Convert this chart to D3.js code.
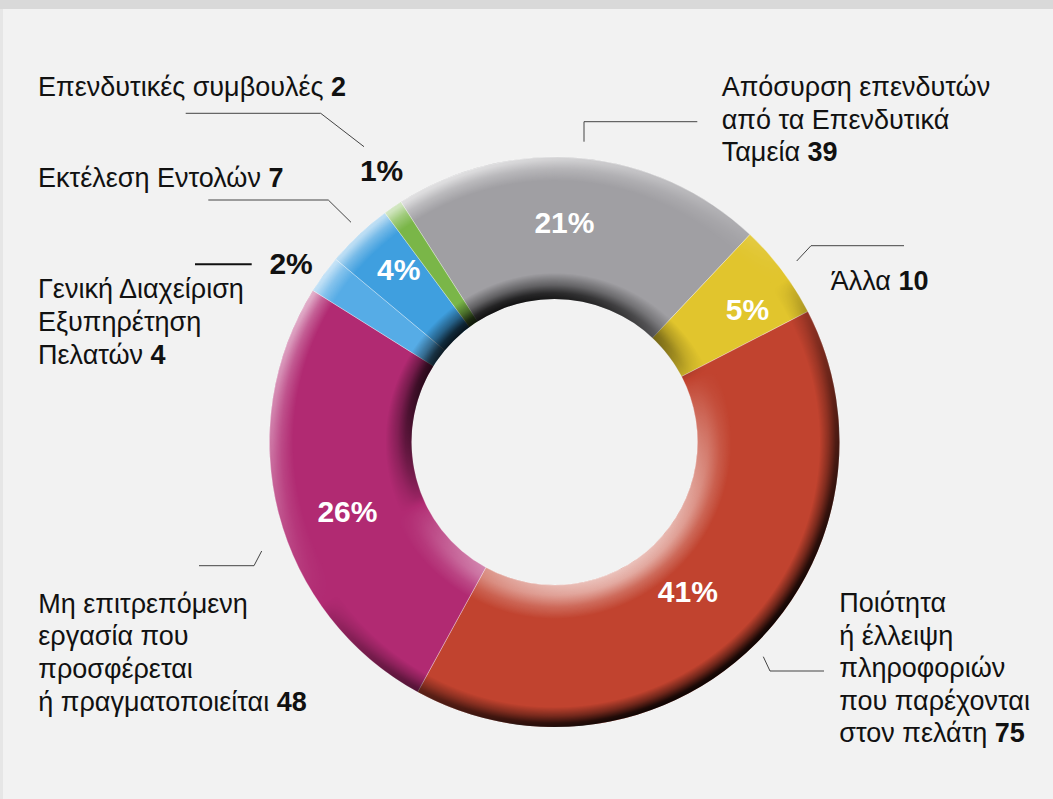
<!DOCTYPE html>
<html lang="el">
<head>
<meta charset="utf-8">
<script src="https://cdn.jsdelivr.net/npm/d3@7"></script>
<style>
  html, body { margin: 0; padding: 0; background: #f2f2f2; }
  svg { display: block; font-family: "Liberation Sans", Arial, Helvetica, sans-serif; }
</style>
</head>
<body>
<svg id="chart" width="1053" height="799"></svg>
<script>
// Complaint categories, clockwise from the top of the ring
const categories = [
  "Απόσυρση επενδυτών από τα Επενδυτικά Ταμεία",
  "Άλλα",
  "Ποιότητα ή έλλειψη πληροφοριών που παρέχονται στον πελάτη",
  "Μη επιτρεπόμενη εργασία που προσφέρεται ή πραγματοποιείται",
  "Γενική Διαχείριση Εξυπηρέτηση Πελατών",
  "Εκτέλεση Εντολών",
  "Επενδυτικές συμβουλές"
];
const values = [39, 10, 75, 48, 4, 7, 2];
const colors = ["#a09fa3", "#e1c52d", "#c1432f", "#b12a72", "#56ace6", "#3f9fdf", "#7ab648"];
// Label text, broken into lines (the count is appended in bold to the last line)
const labelLines = [
  ["Απόσυρση επενδυτών", "από τα Επενδυτικά", "Ταμεία"],
  ["Άλλα"],
  ["Ποιότητα", "ή έλλειψη", "πληροφοριών", "που παρέχονται", "στον πελάτη"],
  ["Μη επιτρεπόμενη", "εργασία που", "προσφέρεται", "ή πραγματοποιείται"],
  ["Γενική Διαχείριση", "Εξυπηρέτηση", "Πελατών"],
  ["Εκτέλεση Εντολών"],
  ["Επενδυτικές συμβουλές"]
];
// Slices too thin to hold their percentage get it outside the ring
const outsidePct = [false, false, false, false, true, false, true];

// ---- layout ----
const W = 1053, H = 799;
const cx = 554.5, cy = 442;
const R = 285, r0 = 143;
const startDeg = -32.6;
const fontSize = 27, lineH = 32.6, pctSize = 30;

const textPos = [
  [721.7, 96], [830.7, 290], [839.3, 612], [38.3, 612.7],
  [38, 298.3], [38, 186.7], [38, 95.7]
];
const leaders = [
  [[584, 141.7], [584, 121.7], [697.3, 121.7]],
  [[796.7, 261], [811, 245.7], [904, 245.7]],
  [[763.3, 656.7], [770, 671], [824, 671]],
  [[199, 565.7], [254, 565.7], [261.7, 551]],
  [[195, 264.3], [251.7, 264.3]],
  [[208.3, 200], [328.3, 200], [351, 222.3]],
  [[185.7, 113.3], [320.7, 113.3], [364, 146.7]]
];
const pctNudge = [[-10, -6], [22, -3], [-16, -3], [0, 16], [-11, 5], [-9, -16], [4, -14]];

const svg = d3.select("#chart");

// backdrop
svg.append("rect").attr("width", W).attr("height", H).attr("fill", "#f2f2f2");
svg.append("rect").attr("width", W).attr("height", 9).attr("fill", "#d9d9d9");
svg.append("rect").attr("y", 9).attr("width", 3).attr("height", H - 9).attr("fill", "#e6e6e6");

const total = d3.sum(values);
const rad = Math.PI / 180;
const pie = d3.pie().sort(null).value(d => d)
  .startAngle(startDeg * rad).endAngle(startDeg * rad + 2 * Math.PI);
const arcs = pie(values);
const arc = d3.arc().innerRadius(r0).outerRadius(R);

const defs = svg.append("defs");

// radial falloff across a rim band
function radial(id, color, stops) {
  const g = defs.append("radialGradient").attr("id", id)
    .attr("gradientUnits", "userSpaceOnUse").attr("cx", 0).attr("cy", 0).attr("r", R);
  stops.forEach(([rr, op]) => g.append("stop")
    .attr("offset", rr / R).attr("stop-color", color).attr("stop-opacity", op));
}
radial("outerLight", "#ffffff", [[R - 24, 0], [R - 12, 0.4], [R - 3, 0.85], [R, 0.9]]);
radial("outerDark", "#000000", [[R - 20, 0], [R - 11, 0.45], [R - 4, 0.88], [R, 0.97]]);
radial("innerDark", "#000000", [[r0, 0.97], [r0 + 6, 0.82], [r0 + 14, 0.42], [r0 + 26, 0]]);
radial("innerLight", "#ffffff", [[r0, 0.85], [r0 + 10, 0.65], [r0 + 22, 0.25], [r0 + 34, 0]]);

// angular falloff: within a thin band the facing factor cos(θ-θL)
// is nearly linear along the light direction, so a linear luminance mask does it
function facingMask(id, dirDeg, rb, fn) {
  const a = dirDeg * rad, lx = Math.sin(a), ly = -Math.cos(a);
  const gid = id + "-grad";
  const lg = defs.append("linearGradient").attr("id", gid)
    .attr("gradientUnits", "userSpaceOnUse")
    .attr("x1", -lx * rb).attr("y1", -ly * rb)
    .attr("x2", lx * rb).attr("y2", ly * rb);
  d3.range(0, 41).forEach(k => {
    const f = -1 + k / 20;
    const v = Math.round(255 * Math.max(0, Math.min(1, fn(f))));
    lg.append("stop").attr("offset", k / 40).attr("stop-color", `rgb(${v},${v},${v})`);
  });
  defs.append("mask").attr("id", id)
    .attr("maskUnits", "userSpaceOnUse")
    .attr("x", -R - 10).attr("y", -R - 10).attr("width", 2 * R + 20).attr("height", 2 * R + 20)
    .append("rect")
    .attr("x", -R - 10).attr("y", -R - 10).attr("width", 2 * R + 20).attr("height", 2 * R + 20)
    .attr("fill", `url(#${gid})`);
}
const outerDir = -35, innerDir = -25;
facingMask("mOuterLight", outerDir, R - 10, f => f > 0 ? Math.pow(f, 1.2) * 0.75 : 0);
facingMask("mOuterDark", outerDir, R - 10, f => f < 0 ? Math.pow(-f, 0.7) * 0.97 : 0);
facingMask("mInnerDark", innerDir, r0 + 12, f => f > 0 ? Math.pow(f, 0.6) * 0.97 : 0);
facingMask("mInnerLight", innerDir, r0 + 12, f => f < 0 ? Math.pow(-f, 0.8) * 0.85 : 0);

const ring = svg.append("g").attr("transform", `translate(${cx},${cy})`);

ring.selectAll("path.slice")
  .data(arcs)
  .join("path")
  .attr("class", "slice")
  .attr("d", arc)
  .attr("fill", (d, i) => colors[i])
  .attr("stroke", "rgba(255,255,255,0.45)")
  .attr("stroke-width", 0.7);

// bevel shading over the whole ring: light falls from the upper left
const full = d3.arc().startAngle(0).endAngle(2 * Math.PI);
const outerBand = full.innerRadius(R - 26).outerRadius(R)();
const innerBand = full.innerRadius(r0).outerRadius(r0 + 36)();
const shade = ring.append("g").attr("class", "shade");
[
  [outerBand, "outerLight", "mOuterLight"],
  [outerBand, "outerDark", "mOuterDark"],
  [innerBand, "innerDark", "mInnerDark"],
  [innerBand, "innerLight", "mInnerLight"]
].forEach(([d, fill, mask]) => {
  shade.append("path").attr("d", d)
    .attr("fill", `url(#${fill})`)
    .attr("mask", `url(#${mask})`);
});

// percentage labels
const pctArc = d3.arc().innerRadius(214).outerRadius(214);
const outArc = d3.arc().innerRadius(312).outerRadius(312);
svg.append("g").selectAll("text")
  .data(arcs)
  .join("text")
  .attr("x", (d, i) => cx + (outsidePct[i] ? outArc : pctArc).centroid(d)[0] + pctNudge[i][0])
  .attr("y", (d, i) => cy + (outsidePct[i] ? outArc : pctArc).centroid(d)[1] + 10 + pctNudge[i][1])
  .attr("text-anchor", "middle")
  .attr("font-size", pctSize)
  .attr("font-weight", "bold")
  .attr("fill", (d, i) => outsidePct[i] ? "#111" : "#fff")
  .text(d => Math.round(d.value / total * 100) + "%");

// leader lines
const line = d3.line();
svg.append("g").selectAll("path")
  .data(leaders)
  .join("path")
  .attr("d", d => line(d))
  .attr("fill", "none")
  .attr("stroke", (d, i) => i === 4 ? "#111" : "#444")
  .attr("stroke-width", (d, i) => i === 4 ? 2 : 1);

// category labels with their counts
const labels = svg.append("g").attr("font-size", fontSize).attr("fill", "#111");
labelLines.forEach((lines, i) => {
  const t = labels.append("text").attr("x", textPos[i][0]).attr("y", textPos[i][1]);
  lines.forEach((ln, j) => {
    t.append("tspan").attr("x", textPos[i][0]).attr("y", textPos[i][1] + j * lineH).text(ln);
    if (j === lines.length - 1) {
      t.append("tspan").attr("font-weight", "bold").text(" " + values[i]);
    }
  });
});
</script>
</body>
</html>
